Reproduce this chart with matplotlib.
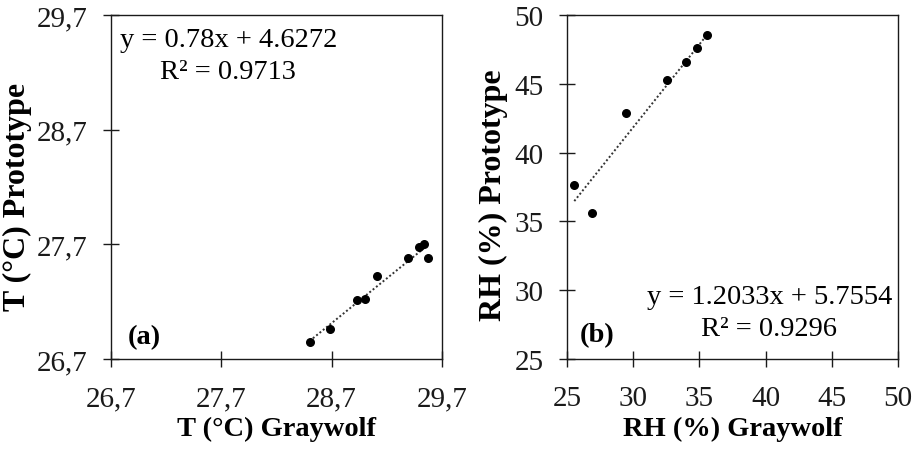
import numpy as np
import matplotlib
matplotlib.use("Agg")
import matplotlib.pyplot as plt

plt.rcParams['font.family'] = ['Liberation Serif', 'DejaVu Serif']

# Panel (a): temperature
t_graywolf = [28.50, 28.685, 28.93, 29.00, 29.11, 29.39, 29.49, 29.54, 29.57]
t_prototype = [26.85, 26.96, 27.215, 27.225, 27.42, 27.58, 27.675, 27.70, 27.58]
t_slope, t_intercept, t_r2 = 0.78, 4.6272, 0.9713
t_ticks = [26.7, 27.7, 28.7, 29.7]
t_ticklabels = ["26,7", "27,7", "28,7", "29,7"]

# Panel (b): relative humidity
rh_graywolf = [25.53, 26.84, 29.41, 32.57, 33.96, 34.84, 35.60]
rh_prototype = [37.65, 35.63, 42.90, 45.25, 46.56, 47.58, 48.52]
rh_slope, rh_intercept, rh_r2 = 1.2033, 5.7554, 0.9296
rh_ticks = [25, 30, 35, 40, 45, 50]
rh_ticklabels = ["25", "30", "35", "40", "45", "50"]

W, H = 917, 452
fig = plt.figure(figsize=(W / 100, H / 100), dpi=100)

ax_a = fig.add_axes([111 / W, 92 / H, 331 / W, 344 / H])
ax_b = fig.add_axes([567.3 / W, 92 / H, 330.4 / W, 344 / H])

TICK_FS = 21
XLABEL_FS = 20.5
YLABEL_FS = 23
EQ_FS = 20.5
EDGE = '#1a1a1a'


def style(ax):
    for s in ax.spines.values():
        s.set_color(EDGE)
        s.set_linewidth(1.0)
    ax.tick_params(direction='inout', length=12, width=1.0, color=EDGE,
                   labelsize=TICK_FS, labelcolor='#1a1a1a')
    ax.tick_params(axis='y', pad=11)
    ax.tick_params(axis='x', pad=13)


def labels(ax, xl, yl, ylx, yly):
    ax.set_xlabel(xl, fontsize=XLABEL_FS, fontweight='bold')
    ax.set_ylabel(yl, fontsize=YLABEL_FS, fontweight='bold')
    ax.xaxis.label.set_va('center')
    ax.yaxis.label.set_va('center')
    ax.xaxis.set_label_coords(0.5, -0.203)
    ax.yaxis.set_label_coords(ylx, yly)


# Panel (a)
ax_a.scatter(t_graywolf, t_prototype, s=30, color='black', zorder=3)
xa = np.array([min(t_graywolf), max(t_graywolf)])
ax_a.plot(xa, t_slope * xa + t_intercept, linestyle=(0, (1, 1.2)),
          color='#333333', linewidth=1.4, zorder=2)
ax_a.set_xlim(26.7, 29.7)
ax_a.set_ylim(26.7, 29.7)
ax_a.set_xticks(t_ticks)
ax_a.set_xticklabels(t_ticklabels)
ax_a.set_yticks(t_ticks)
ax_a.set_yticklabels(t_ticklabels)
style(ax_a)
labels(ax_a, "T (°C) Graywolf", "T (°C) Prototype", -0.283, 0.474)
ax_a.text(0.027, 0.93, f"y = {t_slope}x + {t_intercept}", transform=ax_a.transAxes,
          fontsize=EQ_FS, ha='left', va='center')
ax_a.text(0.352, 0.835, f"R² = {t_r2}", transform=ax_a.transAxes,
          fontsize=EQ_FS, ha='center', va='center')
ax_a.text(0.051, 0.064, "(a)", transform=ax_a.transAxes, fontsize=EQ_FS,
          fontweight='bold', ha='left', va='center')

# Panel (b)
ax_b.scatter(rh_graywolf, rh_prototype, s=30, color='black', zorder=3)
xb = np.array([min(rh_graywolf), max(rh_graywolf)])
ax_b.plot(xb, rh_slope * xb + rh_intercept, linestyle=(0, (1, 1.2)),
          color='#333333', linewidth=1.4, zorder=2)
ax_b.set_xlim(25, 50)
ax_b.set_ylim(25, 50)
ax_b.set_xticks(rh_ticks)
ax_b.set_xticklabels(rh_ticklabels)
ax_b.set_yticks(rh_ticks)
ax_b.set_yticklabels(rh_ticklabels)
style(ax_b)
labels(ax_b, "RH (%) Graywolf", "RH (%) Prototype", -0.225, 0.48)
ax_b.text(0.983, 0.183, f"y = {rh_slope}x + {rh_intercept}", transform=ax_b.transAxes,
          fontsize=EQ_FS, ha='right', va='center')
ax_b.text(0.609, 0.088, f"R² = {rh_r2}", transform=ax_b.transAxes,
          fontsize=EQ_FS, ha='center', va='center')
ax_b.text(0.038, 0.07, "(b)", transform=ax_b.transAxes, fontsize=EQ_FS,
          fontweight='bold', ha='left', va='center')

fig.savefig("out.png", dpi=100)
